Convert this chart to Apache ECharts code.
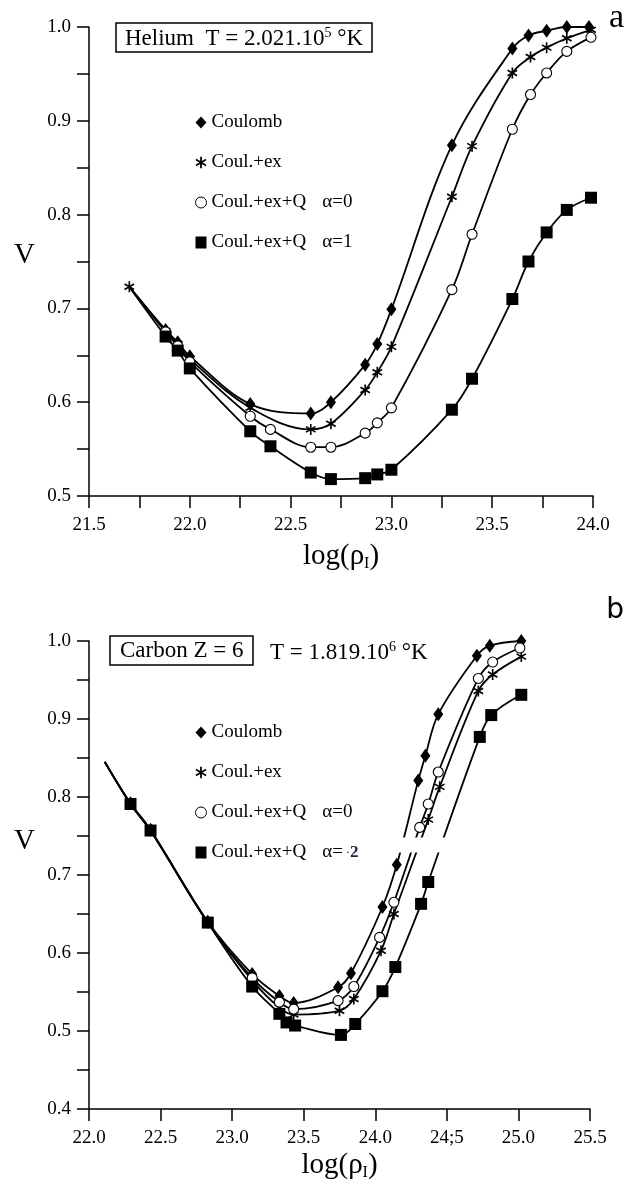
<!DOCTYPE html>
<html>
<head>
<meta charset="utf-8">
<title>V vs log(rho)</title>
<script src="https://cdn.jsdelivr.net/npm/echarts@6/dist/echarts.min.js"></script>
<style>
  html, body { margin: 0; padding: 0; background: #fff; }
  #chart { width: 633px; height: 1187px; }
</style>
</head>
<body>
<div id="chart"></div>
<script>
// ---- panel a : Helium ----
const aCoulombX = [21.7, 21.88, 21.94, 22.0, 22.3, 22.6, 22.7, 22.87, 22.93, 23.0, 23.3, 23.6, 23.68, 23.77, 23.87, 23.98];
const aCoulombY = [0.723, 0.677, 0.664, 0.649, 0.598, 0.588, 0.600, 0.640, 0.662, 0.699, 0.874, 0.977, 0.991, 0.996, 1.0, 1.0];
const aExX = [21.7, 21.88, 21.94, 22.0, 22.3, 22.6, 22.7, 22.87, 22.93, 23.0, 23.3, 23.4, 23.6, 23.69, 23.77, 23.87, 23.99];
const aExY = [0.723, 0.676, 0.662, 0.646, 0.594, 0.571, 0.577, 0.613, 0.632, 0.659, 0.819, 0.873, 0.951, 0.968, 0.978, 0.988, 0.997];
const aQ0X = [21.7, 21.88, 21.94, 22.0, 22.3, 22.4, 22.6, 22.7, 22.87, 22.93, 23.0, 23.3, 23.4, 23.6, 23.69, 23.77, 23.87, 23.99];
const aQ0Y = [0.723, 0.675, 0.660, 0.643, 0.585, 0.571, 0.552, 0.552, 0.567, 0.578, 0.594, 0.720, 0.779, 0.891, 0.928, 0.951, 0.974, 0.989];
const aQ1X = [21.7, 21.88, 21.94, 22.0, 22.3, 22.4, 22.6, 22.7, 22.87, 22.93, 23.0, 23.3, 23.4, 23.6, 23.68, 23.77, 23.87, 23.99];
const aQ1Y = [0.723, 0.670, 0.655, 0.636, 0.569, 0.553, 0.525, 0.518, 0.519, 0.523, 0.528, 0.592, 0.625, 0.710, 0.750, 0.781, 0.805, 0.818];

// ---- panel b : Carbon ----
const bCoulombX = [22.11, 22.29, 22.43, 22.83, 23.14, 23.33, 23.43, 23.74, 23.83, 24.05, 24.15, 24.30, 24.35, 24.44, 24.71, 24.80, 25.02];
const bCoulombY = [0.845, 0.792, 0.758, 0.640, 0.573, 0.545, 0.536, 0.556, 0.574, 0.659, 0.713, 0.821, 0.853, 0.906, 0.981, 0.994, 1.0];
const bExX = [22.11, 22.29, 22.43, 22.83, 23.14, 23.33, 23.43, 23.75, 23.85, 24.04, 24.13, 24.37, 24.45, 24.72, 24.82, 25.02];
const bExY = [0.845, 0.791, 0.757, 0.639, 0.565, 0.530, 0.521, 0.526, 0.541, 0.603, 0.650, 0.771, 0.813, 0.936, 0.957, 0.980];
const bQ0X = [22.11, 22.29, 22.43, 22.83, 23.14, 23.33, 23.43, 23.74, 23.85, 24.03, 24.13, 24.31, 24.37, 24.44, 24.72, 24.82, 25.01];
const bQ0Y = [0.845, 0.791, 0.757, 0.639, 0.568, 0.537, 0.528, 0.539, 0.557, 0.620, 0.665, 0.761, 0.791, 0.832, 0.952, 0.973, 0.991];
const bQ2X = [22.11, 22.29, 22.43, 22.83, 23.14, 23.33, 23.38, 23.44, 23.76, 23.86, 24.05, 24.14, 24.32, 24.37, 24.73, 24.81, 25.02];
const bQ2Y = [0.845, 0.791, 0.757, 0.639, 0.557, 0.522, 0.511, 0.507, 0.495, 0.509, 0.551, 0.582, 0.663, 0.691, 0.877, 0.905, 0.931];

const aXTicks = ["21.5", "22.0", "22.5", "23.0", "23.5", "24.0"];
const bXTicks = ["22.0", "22.5", "23.0", "23.5", "24.0", "24;5", "25.0", "25.5"];

const serif = "'Liberation Serif', 'Times New Roman', serif";

// asterisk marker, three thin bars
const starPath = (() => {
  const parts = [];
  [90, 30, 150].forEach((deg) => {
    const a = (deg * Math.PI) / 180;
    const c = Math.cos(a), s = Math.sin(a);
    const pts = [[-6, -0.9], [6, -0.9], [6, 0.9], [-6, 0.9]].map(([u, v]) => [u * c - v * s, u * s + v * c]);
    parts.push("M" + pts.map((p) => p[0].toFixed(2) + " " + p[1].toFixed(2)).join(" L") + " Z");
  });
  return "path://" + parts.join(" ");
})();

const kinds = {
  diamond: { symbol: "diamond", symbolSize: [10, 14], itemStyle: { color: "#000" } },
  star: { symbol: starPath, symbolSize: 11, symbolKeepAspect: true, itemStyle: { color: "#000" } },
  circle: { symbol: "circle", symbolSize: 10, itemStyle: { color: "#fff", borderColor: "#000", borderWidth: 1.1 } },
  square: { symbol: "rect", symbolSize: 12, itemStyle: { color: "#000" } }
};

const zip = (xs, ys, hideFirst) =>
  xs.map((x, i) => (hideFirst && i === 0 ? { value: [x, ys[i]], symbol: "none" } : [x, ys[i]]));

const mk = (name, xs, ys, kind, idx, hideFirst) => ({
  name,
  type: "line",
  xAxisIndex: idx,
  yAxisIndex: idx,
  smooth: 0.35,
  showSymbol: true,
  lineStyle: { color: "#000", width: 1.8 },
  data: zip(xs, ys, hideFirst),
  ...kinds[kind]
});

const tickStyle = { color: "#000", width: 1.5 };

const xAxisBase = (idx, min, max, labels, minor, gap) => ({
  type: "value",
  gridIndex: idx,
  min,
  max,
  interval: 0.5,
  axisLine: { lineStyle: tickStyle },
  axisTick: { show: true, inside: false, length: 12, lineStyle: tickStyle },
  minorTick: { show: minor, splitNumber: 2, length: 12, lineStyle: tickStyle },
  splitLine: { show: false },
  axisLabel: {
    color: "#000",
    fontFamily: serif,
    fontSize: 19,
    margin: 20,
    showMinLabel: true,
    showMaxLabel: true,
    formatter: (v) => labels[Math.round((v - min) / 0.5)]
  },
  name: "{m|log(ρ}{s|I}{m|)}",
  nameLocation: "middle",
  nameGap: gap,
  nameTextStyle: {
    rich: {
      m: { fontFamily: serif, fontSize: 29, lineHeight: 32, color: "#000" },
      s: { fontFamily: serif, fontSize: 16, lineHeight: 16, verticalAlign: "bottom", color: "#000" }
    }
  }
});

const yAxisBase = (idx, min) => ({
  type: "value",
  gridIndex: idx,
  min,
  max: 1.0,
  interval: 0.1,
  axisLine: { lineStyle: tickStyle },
  axisTick: { show: true, inside: false, length: 12, lineStyle: tickStyle },
  minorTick: { show: true, splitNumber: 2, length: 12, lineStyle: tickStyle },
  splitLine: { show: false },
  axisLabel: { color: "#000", fontFamily: serif, fontSize: 19, margin: 18, formatter: (v) => v.toFixed(1) }
});

const legendRich = {
  t: { fontFamily: serif, fontSize: 19, color: "#000" },
  g: { width: 16 },
  d: { fontFamily: serif, fontSize: 12, color: "#000" },
  b: { fontFamily: serif, fontSize: 17, fontWeight: "bold", color: "#1b2240" }
};

const legendFmt = (name) => {
  const p = name.split(" α");
  if (p.length === 1) return "{t|" + name + "}";
  if (p[1] === "=-2") return "{t|" + p[0] + "}{g|}{t|α=}{d| ·}{b|2}";
  return "{t|" + p[0] + "}{g|}{t|α" + p[1] + "}";
};

const legendItems = (last) => [
  { name: "Coulomb", icon: "diamond" },
  { name: "Coul.+ex", icon: starPath },
  { name: "Coul.+ex+Q α=0", icon: "circle", itemStyle: { color: "#fff", borderColor: "#000", borderWidth: 1 } },
  { name: last, icon: "rect" }
];

const legendBase = (top, last) => ({
  left: 190,
  top,
  orient: "vertical",
  itemWidth: 11,
  itemHeight: 12,
  itemGap: 19,
  selectedMode: false,
  data: legendItems(last),
  formatter: legendFmt,
  textStyle: { lineHeight: 21, rich: legendRich }
});

const titleRich = {
  t: { fontFamily: serif, fontSize: 23, fontWeight: "normal", lineHeight: 25, color: "#000" },
  s: { fontFamily: serif, fontSize: 14, fontWeight: "normal", lineHeight: 14, verticalAlign: "top", color: "#000" }
};

const plain = (size, family) => ({ fontFamily: family || serif, fontSize: size, fontWeight: "normal", color: "#000" });

const option = {
  animation: false,
  backgroundColor: "#fff",
  title: [
    {
      text: "{t|Helium  T = 2.021.10}{s|5}{t| °K}",
      left: 116,
      top: 23,
      padding: [3, 9, 2, 9],
      borderColor: "#000",
      borderWidth: 1.5,
      textStyle: { fontWeight: "normal", rich: titleRich }
    },
    {
      text: "{t|Carbon Z = 6}",
      left: 110,
      top: 635,
      padding: [3, 10, 3, 10],
      borderColor: "#000",
      borderWidth: 1.5,
      textStyle: { fontWeight: "normal", rich: titleRich }
    },
    { text: "{t|T = 1.819.10}{s|6}{t| °K}", left: 270, top: 637, padding: [3, 0, 3, 0], textStyle: { fontWeight: "normal", rich: titleRich } },
    { text: "V", left: 14, top: 241, padding: 0, textStyle: plain(29) },
    { text: "V", left: 14, top: 827, padding: 0, textStyle: plain(29) },
    { text: "a", right: 4, top: -4, textStyle: plain(34) },
    { text: "b", right: 4, top: 592, textStyle: plain(28, "'DejaVu Sans', sans-serif") }
  ],
  legend: [legendBase(107, "Coul.+ex+Q α=1"), legendBase(717, "Coul.+ex+Q α=-2")],
  grid: [
    { left: 89, top: 27, width: 504, height: 469 },
    { left: 89, top: 641, width: 501, height: 468 }
  ],
  xAxis: [xAxisBase(0, 21.5, 24.0, aXTicks, true, 44), xAxisBase(1, 22.0, 25.5, bXTicks, false, 40)],
  yAxis: [yAxisBase(0, 0.5), yAxisBase(1, 0.4)],
  series: [
    mk("Coulomb", aCoulombX, aCoulombY, "diamond", 0, true),
    mk("Coul.+ex", aExX, aExY, "star", 0, false),
    mk("Coul.+ex+Q α=0", aQ0X, aQ0Y, "circle", 0, true),
    mk("Coul.+ex+Q α=1", aQ1X, aQ1Y, "square", 0, true),
    mk("Coulomb", bCoulombX, bCoulombY, "diamond", 1, true),
    mk("Coul.+ex", bExX, bExY, "star", 1, true),
    mk("Coul.+ex+Q α=0", bQ0X, bQ0Y, "circle", 1, true),
    mk("Coul.+ex+Q α=-2", bQ2X, bQ2Y, "square", 1, true)
  ]
};

const chart = echarts.init(document.getElementById("chart"), null, { renderer: "canvas" });
chart.setOption(option);

// white band across the rising curves of panel b (scan artefact in the original)
const p1 = chart.convertToPixel({ gridIndex: 1 }, [24.12, 0.748]);
const p2 = chart.convertToPixel({ gridIndex: 1 }, [24.5, 0.729]);
chart.setOption({
  graphic: [
    { type: "rect", z: 100, shape: { x: p1[0], y: p1[1], width: p2[0] - p1[0], height: p2[1] - p1[1] }, style: { fill: "#fff" } }
  ]
});
</script>
</body>
</html>
